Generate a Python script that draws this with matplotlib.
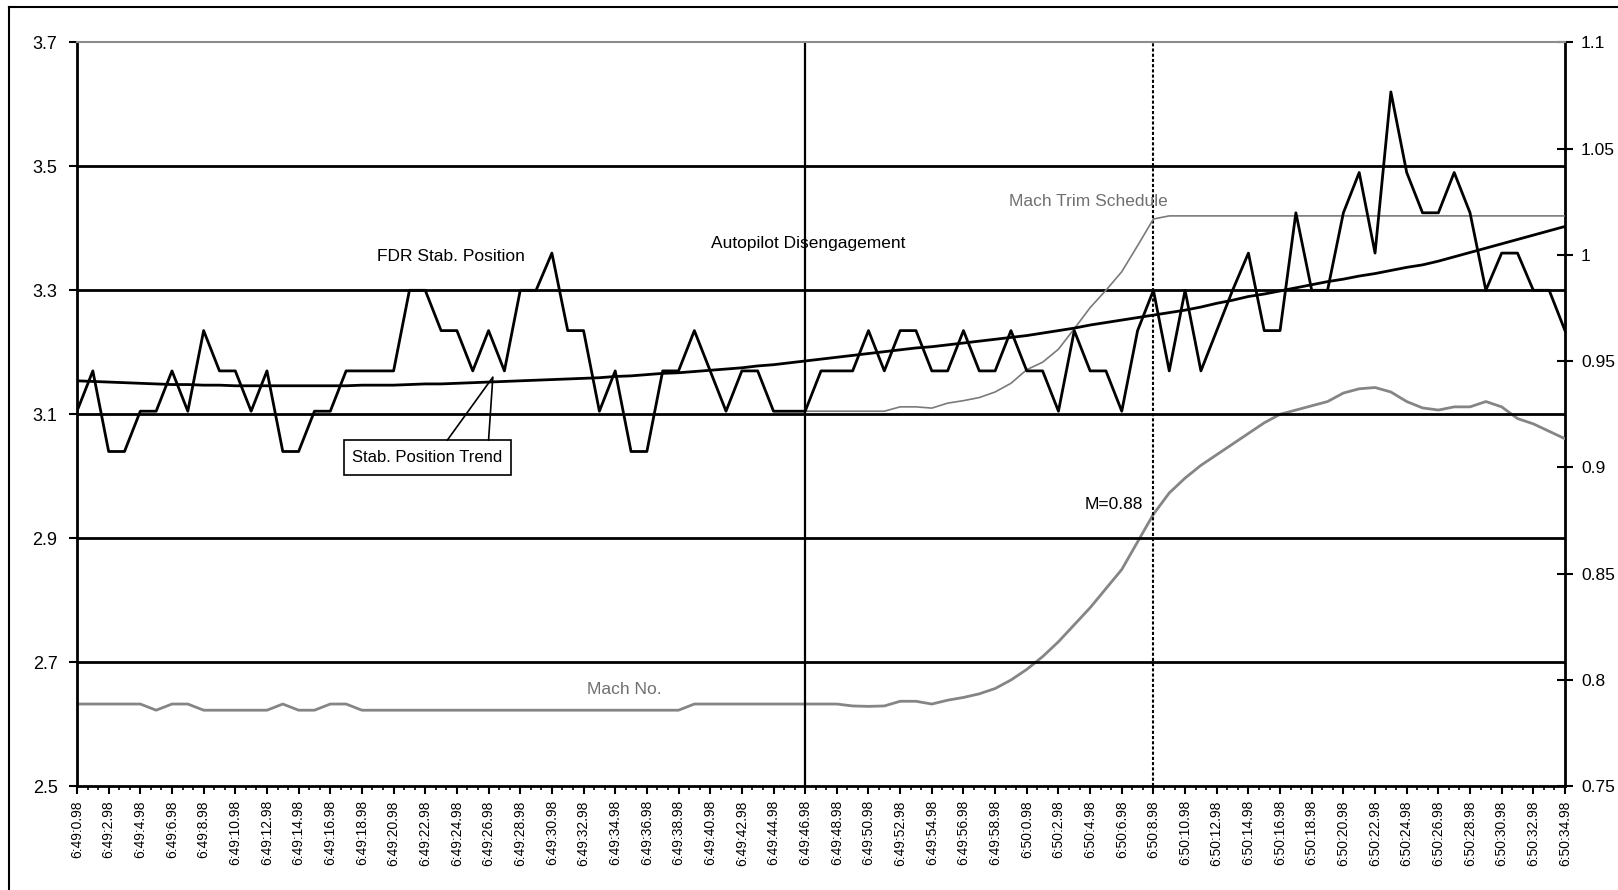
import matplotlib
matplotlib.use("Agg")
import matplotlib.pyplot as plt
from matplotlib.patches import Rectangle
from matplotlib.lines import Line2D
import numpy as np

plt.rcParams['font.family'] = ['Liberation Sans', 'DejaVu Sans']

# ---- data: one sample per second, 6:49:0.98 .. 6:50:34.98 ----
time_labels = [
    "6:49:0.98", "6:49:2.98", "6:49:4.98", "6:49:6.98", "6:49:8.98",
    "6:49:10.98", "6:49:12.98", "6:49:14.98", "6:49:16.98", "6:49:18.98",
    "6:49:20.98", "6:49:22.98", "6:49:24.98", "6:49:26.98", "6:49:28.98",
    "6:49:30.98", "6:49:32.98", "6:49:34.98", "6:49:36.98", "6:49:38.98",
    "6:49:40.98", "6:49:42.98", "6:49:44.98", "6:49:46.98", "6:49:48.98",
    "6:49:50.98", "6:49:52.98", "6:49:54.98", "6:49:56.98", "6:49:58.98",
    "6:50:0.98", "6:50:2.98", "6:50:4.98", "6:50:6.98", "6:50:8.98",
    "6:50:10.98", "6:50:12.98", "6:50:14.98", "6:50:16.98", "6:50:18.98",
    "6:50:20.98", "6:50:22.98", "6:50:24.98", "6:50:26.98", "6:50:28.98",
    "6:50:30.98", "6:50:32.98", "6:50:34.98",
]

fdr_stab_position = [
    3.105, 3.17, 3.04, 3.04, 3.105, 3.105, 3.17, 3.105, 3.235, 3.17,
    3.17, 3.105, 3.17, 3.04, 3.04, 3.105, 3.105, 3.17, 3.17, 3.17,
    3.17, 3.30, 3.30, 3.235, 3.235, 3.17, 3.235, 3.17, 3.30, 3.30,
    3.36, 3.235, 3.235, 3.105, 3.17, 3.04, 3.04, 3.17, 3.17, 3.235,
    3.17, 3.105, 3.17, 3.17, 3.105, 3.105, 3.105, 3.17, 3.17, 3.17,
    3.235, 3.17, 3.235, 3.235, 3.17, 3.17, 3.235, 3.17, 3.17, 3.235,
    3.17, 3.17, 3.105, 3.235, 3.17, 3.17, 3.105, 3.235, 3.30, 3.17,
    3.30, 3.17, 3.235, 3.30, 3.36, 3.235, 3.235, 3.425, 3.30, 3.30,
    3.425, 3.49, 3.36, 3.62, 3.49, 3.425, 3.425, 3.49, 3.425, 3.30,
    3.36, 3.36, 3.30, 3.30, 3.235,
]

stab_position_trend = [
    3.154, 3.153, 3.152, 3.151, 3.150, 3.149, 3.148, 3.148, 3.147, 3.147,
    3.146, 3.146, 3.146, 3.146, 3.146, 3.146, 3.146, 3.146, 3.147, 3.147,
    3.147, 3.148, 3.149, 3.149, 3.150, 3.151, 3.152, 3.153, 3.154, 3.155,
    3.156, 3.157, 3.158, 3.159, 3.161, 3.162, 3.164, 3.166, 3.167, 3.169,
    3.171, 3.173, 3.175, 3.178, 3.180, 3.183, 3.186, 3.189, 3.192, 3.195,
    3.198, 3.201, 3.204, 3.207, 3.209, 3.212, 3.215, 3.218, 3.221, 3.224,
    3.227, 3.231, 3.235, 3.239, 3.244, 3.248, 3.252, 3.256, 3.260, 3.264,
    3.268, 3.273, 3.279, 3.284, 3.290, 3.294, 3.299, 3.304, 3.309, 3.314,
    3.318, 3.323, 3.327, 3.332, 3.337, 3.341, 3.347, 3.354, 3.361, 3.368,
    3.375, 3.382, 3.389, 3.396, 3.403,
]

# Mach trim schedule starts when the autopilot disengages (6:49:46.98)
trim_schedule_start = 46
mach_trim_schedule = [
    3.105, 3.105, 3.105, 3.105, 3.105, 3.105, 3.112, 3.112, 3.110, 3.118,
    3.122, 3.127, 3.136, 3.150, 3.172, 3.184, 3.205, 3.238, 3.272, 3.300,
    3.330, 3.372, 3.415, 3.420, 3.420, 3.420, 3.420, 3.420, 3.420, 3.420,
    3.420, 3.420, 3.420, 3.420, 3.420, 3.420, 3.420, 3.420, 3.420, 3.420,
    3.420, 3.420, 3.420, 3.420, 3.420, 3.420, 3.420, 3.420, 3.420,
]

mach_number = [
    0.7887, 0.7887, 0.7887, 0.7887, 0.7887, 0.7858, 0.7887, 0.7887, 0.7858, 0.7858,
    0.7858, 0.7858, 0.7858, 0.7887, 0.7858, 0.7858, 0.7887, 0.7887, 0.7858, 0.7858,
    0.7858, 0.7858, 0.7858, 0.7858, 0.7858, 0.7858, 0.7858, 0.7858, 0.7858, 0.7858,
    0.7858, 0.7858, 0.7858, 0.7858, 0.7858, 0.7858, 0.7858, 0.7858, 0.7858, 0.7887,
    0.7887, 0.7887, 0.7887, 0.7887, 0.7887, 0.7887, 0.7887, 0.7887, 0.7887, 0.7878,
    0.7876, 0.7878, 0.7900, 0.7900, 0.7887, 0.7905, 0.7918, 0.7935, 0.7960, 0.8000,
    0.8050, 0.8110, 0.8180, 0.8260, 0.8340, 0.8430, 0.8520, 0.8650, 0.8780, 0.8880,
    0.8950, 0.9010, 0.9060, 0.9110, 0.9160, 0.9210, 0.9250, 0.9270, 0.9290, 0.9310,
    0.9350, 0.9370, 0.9376, 0.9355, 0.9310, 0.9280, 0.9270, 0.9285, 0.9285, 0.9310,
    0.9285, 0.9230, 0.9205, 0.9170, 0.9135,
]

left_ticks = [2.5, 2.7, 2.9, 3.1, 3.3, 3.5, 3.7]
right_ticks = [0.75, 0.8, 0.85, 0.9, 0.95, 1.0, 1.05, 1.1]
right_tick_labels = ["0.75", "0.8", "0.85", "0.9", "0.95", "1", "1.05", "1.1"]

autopilot_label = "6:49:46.98"
mach_limit_label = "6:50:8.98"

# ---- layout ----
W, H = 1618, 890
fig = plt.figure(figsize=(W / 100, H / 100), dpi=100)
ax = fig.add_axes([77 / W, 1 - 786.3 / H, (1565 - 77) / W, (786.3 - 42.3) / H])
ax2 = ax.twinx()
ax.set_zorder(ax2.get_zorder() + 1)
ax.patch.set_visible(False)

seconds = np.arange(len(fdr_stab_position))
label_pos = seconds[::2]
autopilot_t = label_pos[time_labels.index(autopilot_label)]
mach_limit_t = label_pos[time_labels.index(mach_limit_label)]

ax.set_xlim(seconds[0], seconds[-1])
ax.set_ylim(left_ticks[0], left_ticks[-1])
ax2.set_ylim(right_ticks[0], right_ticks[-1])

# horizontal grid
ax.set_yticks(left_ticks)
ax.set_yticklabels([f"{v:.1f}" for v in left_ticks])
ax.grid(axis='y', color='black', lw=2)
ax.grid(axis='x', visible=False)
ygl = ax.get_ygridlines()
ygl[0].set_visible(False)
ygl[-1].set_visible(False)

# event markers
ax.axvline(autopilot_t, color='black', lw=1.6, zorder=2)
ax.axvline(mach_limit_t, color='black', lw=1.5, ls=(0, (1.5, 1.0)), zorder=2)

# series
ax2.plot(seconds, mach_number, color='#858585', lw=2.0, zorder=3)
ax.plot(seconds[trim_schedule_start:], mach_trim_schedule, color='#7a7a7a',
        lw=1.2, zorder=3)
ax.plot(seconds, stab_position_trend, color='black', lw=2.0, zorder=4)
ax.plot(seconds, fdr_stab_position, color='black', lw=2.0, zorder=5)

# spines
for s in ['left', 'bottom']:
    ax.spines[s].set_color('black')
    ax.spines[s].set_linewidth(2)
ax.spines['right'].set_visible(False)
ax.spines['top'].set_color('#8c8c8c')
ax.spines['top'].set_linewidth(1.5)
ax.spines['top'].set_linestyle((0, (1, 1)))
for s in ['left', 'top', 'bottom']:
    ax2.spines[s].set_visible(False)
ax2.spines['right'].set_color('black')
ax2.spines['right'].set_linewidth(2)

# ticks
ax.set_xticks(label_pos)
ax.set_xticklabels(time_labels, rotation=90, fontsize=10, va='top', ha='center')
ax.set_xticks(np.arange(seconds[0], seconds[-1] + 0.01, 2 / 3), minor=True)
ax.tick_params(axis='x', which='major', direction='out', length=6, width=1.5, pad=4)
ax.tick_params(axis='x', which='minor', direction='out', length=3, width=1.2)
ax.tick_params(axis='y', direction='out', length=6, width=1.5, labelsize=13, pad=8)
ax2.set_yticks(right_ticks)
ax2.set_yticklabels(right_tick_labels)
ax2.tick_params(axis='y', direction='inout', length=11, width=1.5, labelsize=12.5, pad=6)

# annotations
ax.text(23.6, 3.354, "FDR Stab. Position", fontsize=12.5, ha='center', va='center', zorder=6)
ax.text(46.2, 3.375, "Autopilot Disengagement", fontsize=12.5, ha='center', va='center', zorder=6)
ax.text(63.9, 3.444, "Mach Trim Schedule", fontsize=12.5, color='#707070',
        ha='center', va='center', zorder=6)
ax.text(34.55, 2.656, "Mach No.", fontsize=12.5, color='#707070',
        ha='center', va='center', zorder=6)
ax.text(67.34, 2.954, "M=0.88", fontsize=12.5, ha='right', va='center', zorder=6)

# callout box for the trend line
box_x0, box_x1 = 16.87, 27.39
box_y0, box_y1 = 3.0026, 3.0585
ax.add_patch(Rectangle((box_x0, box_y0), box_x1 - box_x0, box_y1 - box_y0,
                       facecolor='white', edgecolor='black', lw=1.2, zorder=7))
ax.text((box_x0 + box_x1) / 2, (box_y0 + box_y1) / 2, "Stab. Position Trend",
        fontsize=12, ha='center', va='center', zorder=8)
tip = (26.27, 3.16)
ax.plot([23.4, tip[0], 26.0], [box_y1, tip[1], box_y1], color='black', lw=1.2, zorder=7)

# outer frame
fig.add_artist(Line2D([9.3 / W, 9.3 / W], [0, 1 - 7 / H], color='black', lw=1.5))
fig.add_artist(Line2D([9.3 / W, 1], [1 - 7 / H, 1 - 7 / H], color='black', lw=1.5))

fig.savefig("out.png", dpi=100)
